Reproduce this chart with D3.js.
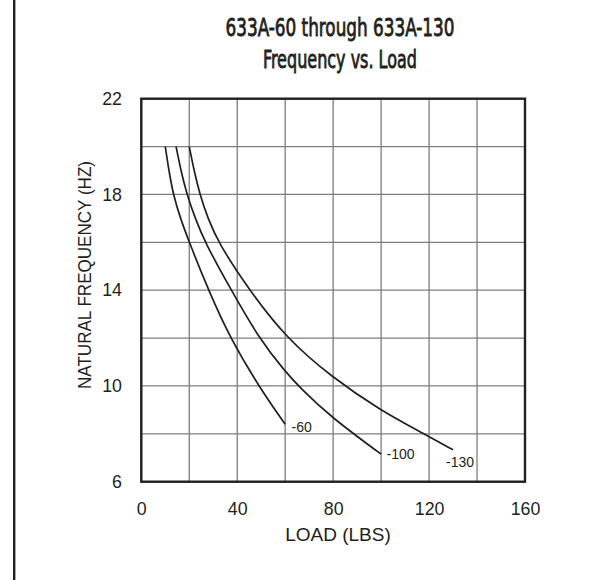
<!DOCTYPE html>
<html>
<head>
<meta charset="utf-8">
<script src="https://cdn.jsdelivr.net/npm/d3@7"></script>
<style>
  html, body { margin: 0; padding: 0; background: #fff; }
  svg { display: block; font-family: 'Liberation Sans', Arial, Helvetica, sans-serif; }
</style>
</head>
<body>
<div id="chart"></div>
<script>
// values
const seriesNames = ['-60', '-100', '-130']
const loads60 = [10, 11.5, 13.3, 16.3, 20, 28, 37, 49.5, 60]
const freq60 = [20, 19, 18, 17, 16, 14, 12, 9.9, 8.4]
const loads100 = [14.5, 16.5, 19, 22.5, 26.5, 37.5, 49, 60, 66, 79, 100]
const freq100 = [20, 19, 18, 17, 16, 14, 12, 10.6, 9.95, 8.7, 7.15]
const loads130 = [20, 22, 24.4, 27.8, 32, 45, 60.5, 79, 100, 118, 130]
const freq130 = [20, 19, 18, 17, 16, 14, 12, 10.4, 8.96, 8, 7.33]

const xGrid = [0, 20, 40, 60, 80, 100, 120, 140, 160]
const yGrid = [6, 8, 10, 12, 14, 16, 18, 20, 22]
const xTickLabels = [0, 40, 80, 120, 160]
const yTickLabels = [6, 10, 14, 18, 22]

const titleLines = ['633A-60 through 633A-130', 'Frequency vs. Load']
const xTitle = 'LOAD (LBS)'
const yTitle = 'NATURAL FREQUENCY (HZ)'

const W = 613
const H = 580
const margin = { top: 98.7, right: 88, bottom: 98.3, left: 141.3 }
const width = W - margin.left - margin.right
const height = H - margin.top - margin.bottom
const ink = '#231f20'

const svg = d3.select('#chart')
  .append('svg')
  .attr('width', W)
  .attr('height', H)

svg.append('rect').attr('width', W).attr('height', H).attr('fill', '#fff')

// frame line down the left edge
svg.append('line')
  .attr('x1', 14.2).attr('x2', 14.2)
  .attr('y1', 0).attr('y2', H)
  .attr('stroke', ink)
  .attr('stroke-width', 2.4)

// title
const titleY = [35.7, 68.3]
const titleW = [229, 154]
titleLines.forEach((t, i) => {
  svg.append('text')
    .attr('x', 340)
    .attr('y', titleY[i])
    .attr('text-anchor', 'middle')
    .attr('font-family', "'Liberation Sans Narrow', 'DejaVu Sans Condensed', 'Liberation Sans', sans-serif")
    .attr('font-size', 25)
    .attr('fill', ink)
    .attr('stroke', ink)
    .attr('stroke-width', 0.8)
    .attr('textLength', titleW[i])
    .attr('lengthAdjust', 'spacingAndGlyphs')
    .text(t)
})

const g = svg.append('g')
  .attr('transform', `translate(${margin.left},${margin.top})`)

const x = d3.scaleLinear().domain([0, 160]).range([0, width])
const y = d3.scaleLinear().domain([6, 22]).range([height, 0])

// grid
g.append('g')
  .selectAll('line')
  .data(xGrid)
  .join('line')
  .attr('x1', d => x(d)).attr('x2', d => x(d))
  .attr('y1', 0).attr('y2', height)
  .attr('stroke', '#7d7d7d')
  .attr('stroke-width', 1.3)

g.append('g')
  .selectAll('line')
  .data(yGrid)
  .join('line')
  .attr('y1', d => y(d)).attr('y2', d => y(d))
  .attr('x1', 0).attr('x2', width)
  .attr('stroke', '#7d7d7d')
  .attr('stroke-width', 1.3)

// axes (labels only)
const xAxis = g.append('g')
  .attr('transform', `translate(0,${height})`)
  .call(d3.axisBottom(x).tickValues(xTickLabels).tickSize(0).tickPadding(21).tickFormat(d3.format('d')))
const yAxis = g.append('g')
  .call(d3.axisLeft(y).tickValues(yTickLabels).tickSize(0).tickPadding(19.3).tickFormat(d3.format('d')))

;[xAxis, yAxis].forEach(a => {
  a.select('.domain').remove()
  a.selectAll('text')
    .attr('font-family', "'Liberation Sans', Arial, sans-serif")
    .attr('font-size', 17.8)
    .attr('fill', ink)
})

// plot border
g.append('rect')
  .attr('width', width)
  .attr('height', height)
  .attr('fill', 'none')
  .attr('stroke', ink)
  .attr('stroke-width', 2.4)

// curves
const series = [
  { name: seriesNames[0], values: loads60.map((l, i) => [l, freq60[i]]) },
  { name: seriesNames[1], values: loads100.map((l, i) => [l, freq100[i]]) },
  { name: seriesNames[2], values: loads130.map((l, i) => [l, freq130[i]]) }
]

const line = d3.line()
  .x(d => x(d[0]))
  .y(d => y(d[1]))
  .curve(d3.curveBasis)

g.selectAll('.curve')
  .data(series)
  .join('path')
  .attr('class', 'curve')
  .attr('fill', 'none')
  .attr('stroke', ink)
  .attr('stroke-width', 1.7)
  .attr('d', d => line(d.values))

// labels at curve ends
const labelOffset = [[6.4, 7.5], [5.4, 5], [-7, 17]]
g.selectAll('.curve-label')
  .data(series)
  .join('text')
  .attr('class', 'curve-label')
  .attr('x', (d, i) => x(d.values[d.values.length - 1][0]) + labelOffset[i][0])
  .attr('y', (d, i) => y(d.values[d.values.length - 1][1]) + labelOffset[i][1])
  .attr('font-size', 14)
  .attr('fill', ink)
  .text(d => d.name)

// axis titles
svg.append('text')
  .attr('x', 338)
  .attr('y', 540.5)
  .attr('text-anchor', 'middle')
  .attr('font-size', 19)
  .attr('fill', ink)
  .text(xTitle)

svg.append('text')
  .attr('transform', 'translate(90.5,275) rotate(-90)')
  .attr('text-anchor', 'middle')
  .attr('font-size', 19)
  .attr('fill', ink)
  .attr('textLength', 228)
  .attr('lengthAdjust', 'spacingAndGlyphs')
  .text(yTitle)
</script>
</body>
</html>
